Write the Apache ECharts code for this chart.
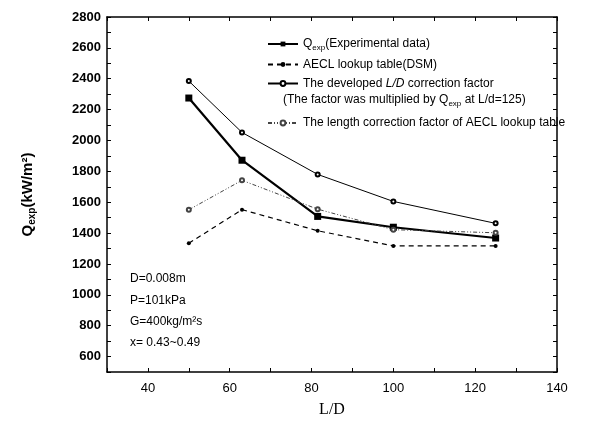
<!DOCTYPE html>
<html><head><meta charset="utf-8">
<script src="https://cdn.jsdelivr.net/npm/echarts@6/dist/echarts.min.js"></script>
<style>html,body{margin:0;padding:0;background:#fff}#c{width:593px;height:424px}</style>
</head><body><div id="c"></div>
<script>
const ld = [50, 63, 81.5, 100, 125];
const qexp = [2275, 1872, 1508, 1438, 1368];
const aecl = [1334, 1552, 1415, 1317, 1317];
const developed = [2385, 2052, 1780, 1605, 1463];
const lengthCorr = [1551, 1742, 1555, 1422, 1402];
const xTicks = [40, 60, 80, 100, 120, 140];
const yTicks = [600, 800, 1000, 1200, 1400, 1600, 1800, 2000, 2200, 2400, 2600, 2800];
const notes = ['D=0.008m', 'P=101kPa', 'G=400kg/m\u00b2s', 'x= 0.43~0.49'];

const pair = arr => ld.map((x, i) => [x, arr[i]]);
const font = 'Liberation Sans, Arial, sans-serif';
const chart = echarts.init(document.getElementById('c'));
const axisCommon = {
  axisLine: {show: true, onZero: false, lineStyle: {color: '#000', width: 1.5}},
  axisTick: {inside: true, length: 4, lineStyle: {color: '#000'}},
  splitLine: {show: false}
};
chart.setOption({
  animation: false,
  backgroundColor: '#fff',
  grid: {left: 107, right: 36, top: 17, bottom: 52},
  xAxis: [
    Object.assign({type: 'value', min: 30, max: 140, interval: 10, position: 'bottom',
      name: 'L/D', nameLocation: 'middle', nameGap: 30,
      nameTextStyle: {fontFamily: 'Liberation Serif, Times New Roman, serif', fontSize: 16, color: '#000'},
      axisLabel: {color: '#000', fontFamily: font, fontSize: 13, margin: 10,
        formatter: v => xTicks.includes(v) ? String(v) : ''}}, axisCommon),
    Object.assign({type: 'value', min: 30, max: 140, interval: 10, position: 'top',
      axisLabel: {show: false}}, axisCommon)
  ],
  yAxis: [
    Object.assign({type: 'value', min: 500, max: 2800, interval: 100, position: 'left',
      name: 'Q{sub|exp}(kW/m\u00b2)', nameLocation: 'middle', nameGap: 70, nameRotate: 90,
      nameTextStyle: {fontFamily: font, fontSize: 15, fontWeight: 'bold', color: '#000',
        rich: {sub: {fontSize: 10, fontWeight: 'bold', fontFamily: font, padding: [8, 0, 0, 0]}}},
      axisLabel: {color: '#000', fontFamily: font, fontSize: 13, fontWeight: 'bold', margin: 6,
        formatter: v => yTicks.includes(v) ? String(v) : ''}}, axisCommon),
    Object.assign({type: 'value', min: 500, max: 2800, interval: 100, position: 'right',
      axisLabel: {show: false}}, axisCommon)
  ],
  legend: [
    {data: ['qexp', 'aecl', 'developed'], orient: 'vertical', left: 262, top: 33,
      itemWidth: 30, itemHeight: 6, itemGap: 7,
      textStyle: {fontFamily: font, fontSize: 12, color: '#000',
        rich: {sub: {fontSize: 8, padding: [7, 0, 0, 0], fontFamily: font}, i: {fontStyle: 'italic', fontSize: 12, fontFamily: font}}},
      formatter: n => ({qexp: 'Q{sub|exp}(Experimental data)', aecl: 'AECL lookup table(DSM)',
        developed: 'The developed {i|L/D} correction factor'})[n]},
    {data: ['lengthCorr'], orient: 'vertical', left: 262, top: 112,
      itemWidth: 30, itemHeight: 6,
      textStyle: {fontFamily: font, fontSize: 12, color: '#000'},
      formatter: () => 'The length correction factor of AECL lookup table'}
  ],
  graphic: [
    {type: 'text', left: 283, top: 94, style: {text: '(The factor was multiplied by Q{sub|exp} at L/d=125)',
      font: '12px ' + font, fill: '#000',
      rich: {sub: {fontSize: 8, padding: [7, 0, 0, 0], fontFamily: font, fill: '#000'}}}},
    ...notes.map((t, i) => ({type: 'text', left: 130, top: 273 + i * 21.3,
      style: {text: t, font: '12px ' + font, fill: '#000'}}))
  ],
  series: [
    {name: 'qexp', type: 'line', data: pair(qexp), symbol: 'rect', symbolSize: 7,
      lineStyle: {color: '#000', width: 2.2}, itemStyle: {color: '#000'}},
    {name: 'aecl', type: 'line', data: pair(aecl), symbol: 'circle', symbolSize: 4,
      lineStyle: {color: '#000', width: 1.2, type: [5, 4]}, itemStyle: {color: '#000'}},
    {name: 'developed', type: 'line', data: pair(developed), symbol: 'emptyCircle', symbolSize: 4,
      lineStyle: {color: '#000', width: 1}, itemStyle: {color: '#000', borderWidth: 1}},
    {name: 'lengthCorr', type: 'line', data: pair(lengthCorr), symbol: 'emptyCircle', symbolSize: 4,
      lineStyle: {color: '#444', width: 1, type: [4, 2, 1, 2, 1, 2]}, itemStyle: {color: '#444', borderWidth: 1}}
  ]
});
</script></body></html>
